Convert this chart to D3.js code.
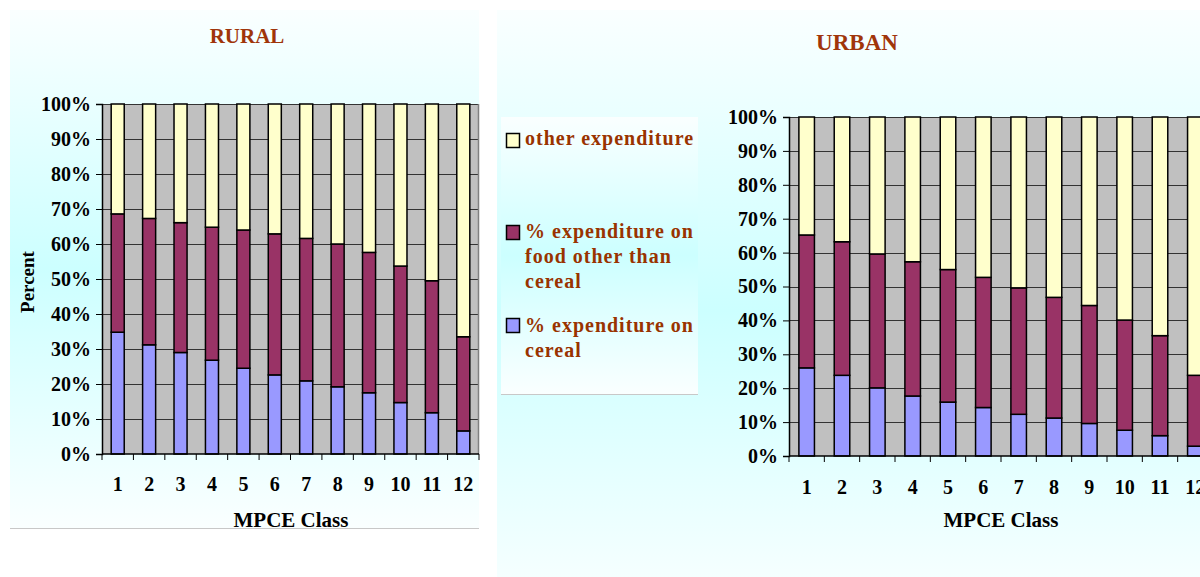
<!DOCTYPE html>
<html>
<head>
<meta charset="utf-8">
<script src="https://cdn.jsdelivr.net/npm/d3@7"></script>
<style>
  html, body { margin: 0; padding: 0; background: #ffffff; }
  svg { display: block; }
  text { font-family: "Liberation Serif", "Times New Roman", serif; font-weight: bold; }
</style>
</head>
<body>
<svg id="chart" width="1200" height="577"></svg>
<script>
// ---------- data ----------
const categories = ["1","2","3","4","5","6","7","8","9","10","11","12"];
const yTickLabels = ["0%","10%","20%","30%","40%","50%","60%","70%","80%","90%","100%"];
const seriesNames = ["% expenditure on cereal", "% expenditure on food other than cereal", "other expenditure"];

const ruralCereal = [34.8, 31.2, 29.0, 26.8, 24.5, 22.6, 20.9, 19.2, 17.5, 14.7, 11.8, 6.6];
const ruralFood   = [33.8, 36.1, 37.1, 38.0, 39.5, 40.3, 40.7, 40.8, 40.1, 39.0, 37.7, 26.9];
const ruralOther  = [31.4, 32.7, 33.9, 35.2, 36.0, 37.1, 38.4, 40.0, 42.4, 46.3, 50.5, 66.5];

const urbanCereal = [26.0, 23.8, 20.1, 17.7, 15.9, 14.3, 12.3, 11.2, 9.6, 7.6, 6.0, 2.9];
const urbanFood   = [39.2, 39.4, 39.5, 39.6, 39.1, 38.4, 37.3, 35.6, 34.8, 32.5, 29.5, 20.9];
const urbanOther  = [34.8, 36.8, 40.4, 42.7, 45.0, 47.3, 50.4, 53.2, 55.6, 59.9, 64.5, 76.2];

const colors = ["#9999FF", "#993366", "#FFFFCC"];
const titleColor = "#A0350A";

// ---------- drawing ----------
const svg = d3.select("#chart");
const defs = svg.append("defs");
const grad = defs.append("linearGradient").attr("id", "bgGrad")
  .attr("x1", 0).attr("y1", 0).attr("x2", 0).attr("y2", 1);
grad.append("stop").attr("offset", "0%").attr("stop-color", "#FAFFFF");
grad.append("stop").attr("offset", "50%").attr("stop-color", "#CCFFFF");
grad.append("stop").attr("offset", "100%").attr("stop-color", "#FAFFFF");

// panels
svg.append("rect").attr("x", 10).attr("y", 10).attr("width", 469).attr("height", 518).attr("fill", "url(#bgGrad)");
svg.append("line").attr("x1", 10).attr("x2", 479).attr("y1", 528.5).attr("y2", 528.5).attr("stroke", "#C8C8C8");
svg.append("rect").attr("x", 497).attr("y", 10).attr("width", 720).attr("height", 600).attr("fill", "url(#bgGrad)");

function drawChart(opt) {
  const rows = categories.map((c, i) => ({ cat: c, cereal: opt.cereal[i], food: opt.food[i], other: opt.other[i] }));
  const stack = d3.stack().keys(["cereal", "food", "other"]);
  const layers = stack(rows);

  const x = d3.scaleBand().domain(categories).range([opt.left, opt.right]).paddingInner(opt.pad).paddingOuter(opt.pad / 2);
  const y = d3.scaleLinear().domain([0, 100]).range([opt.bottom, opt.top]);

  const g = svg.append("g");
  g.append("rect").attr("x", opt.left).attr("y", opt.top)
    .attr("width", opt.right - opt.left).attr("height", opt.bottom - opt.top).attr("fill", "#C0C0C0");
  g.selectAll("line.grid").data(d3.range(10, 101, 10)).join("line")
    .attr("x1", opt.left).attr("x2", opt.right)
    .attr("y1", d => Math.round(y(d)) + 0.5).attr("y2", d => Math.round(y(d)) + 0.5)
    .attr("stroke", "#333333").attr("stroke-width", 1);
  g.append("line").attr("x1", opt.right - 0.5).attr("x2", opt.right - 0.5)
    .attr("y1", opt.top).attr("y2", opt.bottom).attr("stroke", "#808080").attr("stroke-width", 1.5);

  layers.forEach((layer, li) => {
    g.append("g").selectAll("rect").data(layer).join("rect")
      .attr("x", d => x(d.data.cat))
      .attr("width", x.bandwidth())
      .attr("y", d => y(d[1]))
      .attr("height", d => y(d[0]) - y(d[1]))
      .attr("fill", colors[li])
      .attr("stroke", "#000").attr("stroke-width", 1.5);
  });

  const yAxis = d3.axisLeft(y).tickValues(d3.range(0, 101, 10))
    .tickFormat((d, i) => yTickLabels[i]).tickSize(6).tickPadding(5);
  const ya = g.append("g").attr("transform", `translate(${opt.left},0)`).call(yAxis);
  ya.select(".domain").attr("stroke", "#000").attr("stroke-width", 1.5);
  ya.selectAll(".tick line").attr("stroke", "#000");
  ya.selectAll("text").attr("font-size", opt.fs).attr("fill", "#000")
    .attr("font-family", "Liberation Serif").attr("font-weight", "bold");

  g.append("line").attr("x1", opt.left).attr("x2", opt.right)
    .attr("y1", opt.bottom).attr("y2", opt.bottom).attr("stroke", "#000").attr("stroke-width", 1.5);
  const step = x.step();
  g.selectAll("line.xt").data(d3.range(0, categories.length + 1)).join("line")
    .attr("x1", i => opt.left + i * step).attr("x2", i => opt.left + i * step)
    .attr("y1", opt.bottom).attr("y2", opt.bottom + 6).attr("stroke", "#000");
  g.selectAll("text.xl").data(categories).join("text")
    .attr("x", d => x(d) + x.bandwidth() / 2)
    .attr("y", opt.xLabelY)
    .attr("text-anchor", "middle").attr("font-size", opt.fs).attr("fill", "#000")
    .text(d => d);

  g.append("text").attr("x", opt.xTitleX).attr("y", opt.xTitleY).attr("text-anchor", "middle")
    .attr("font-size", 21).attr("fill", "#000").text("MPCE Class");
  g.append("text").attr("x", opt.titleX).attr("y", opt.titleY).attr("text-anchor", "middle")
    .attr("font-size", opt.titleFs).attr("fill", titleColor).text(opt.title);
  if (opt.yTitle) {
    g.append("text").attr("transform", `translate(34,${(opt.top + opt.bottom) / 2 + 3}) rotate(-90)`)
      .attr("text-anchor", "middle").attr("font-size", 19).attr("fill", "#000").text(opt.yTitle);
  }
}

drawChart({
  cereal: ruralCereal, food: ruralFood, other: ruralOther,
  left: 102, right: 479, top: 104, bottom: 454, pad: 0.585, fs: 20,
  xLabelY: 491, xTitleX: 291, xTitleY: 527,
  title: "RURAL", titleX: 247, titleY: 43, titleFs: 21, yTitle: "Percent"
});

drawChart({
  cereal: urbanCereal, food: urbanFood, other: urbanOther,
  left: 789, right: 1213, top: 117, bottom: 456, pad: 0.56, fs: 20,
  xLabelY: 494, xTitleX: 1001, xTitleY: 527,
  title: "URBAN", titleX: 857, titleY: 50, titleFs: 23, yTitle: null
});

// ---------- legend ----------
const lg = svg.append("g");
lg.append("rect").attr("x", 501).attr("y", 117).attr("width", 197).attr("height", 277).attr("fill", "url(#bgGrad)");
lg.append("line").attr("x1", 501).attr("x2", 698).attr("y1", 394.5).attr("y2", 394.5).attr("stroke", "#C8C8C8");

const legendItems = [
  { color: colors[2], lines: ["other expenditure"], sy: 133, ty: 145 },
  { color: colors[1], lines: ["% expenditure on", "food other than", "cereal"], sy: 225, ty: 238 },
  { color: colors[0], lines: ["% expenditure on", "cereal"], sy: 318, ty: 332 }
];
legendItems.forEach(it => {
  lg.append("rect").attr("x", 506.5).attr("y", it.sy + 0.5).attr("width", 13).attr("height", 14)
    .attr("fill", it.color).attr("stroke", "#000").attr("stroke-width", 1.5);
  it.lines.forEach((ln, k) => {
    lg.append("text").attr("x", 525).attr("y", it.ty + k * 25)
      .attr("font-size", 20).attr("letter-spacing", 1).attr("fill", "#993300").text(ln);
  });
});
</script>
</body>
</html>
